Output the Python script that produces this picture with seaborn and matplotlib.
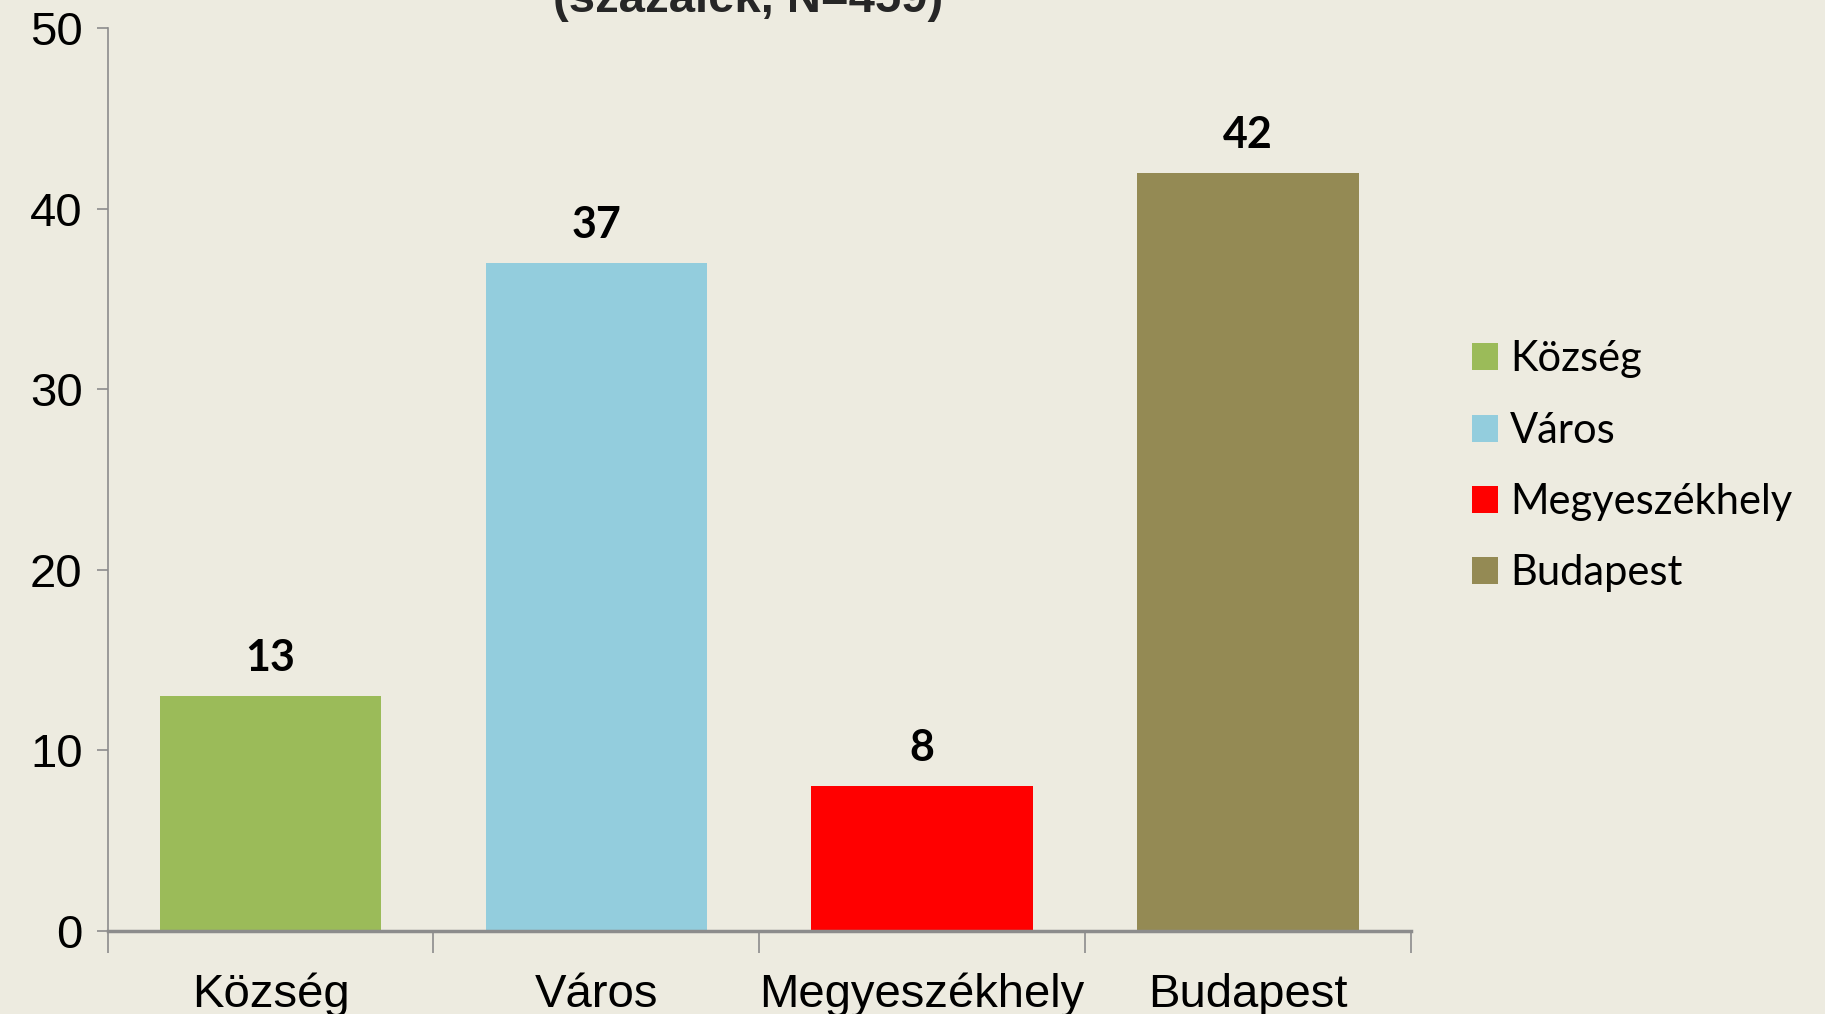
import matplotlib
matplotlib.use('Agg')
import matplotlib.pyplot as plt
import seaborn as sns
import pandas as pd
from matplotlib.patches import Patch

# Data
categories = ['Község', 'Város', 'Megyeszékhely', 'Budapest']
values = [13, 37, 8, 42]
colors = ['#9BBB59', '#93CDDD', '#FF0000', '#948A54']
title_text = '(százalék, N=459)'

bg = '#EDEBE0'

sns.set_theme(style='white')
plt.rcParams['font.family'] = ['Liberation Sans Narrow', 'Liberation Sans', 'DejaVu Sans']

df = pd.DataFrame({'Település': categories, 'Arány': values})

fig = plt.figure(figsize=(18.25, 10.14), dpi=100, facecolor=bg)
ax = fig.add_axes([0.059, 0.082, 0.714, 0.890])
ax.set_facecolor(bg)

sns.barplot(data=df, x='Település', y='Arány', hue='Település',
            palette=colors, width=0.68, dodge=False, legend=False,
            saturation=1, linewidth=0, edgecolor='none', ax=ax)

# value labels
for i, v in enumerate(values):
    ax.text(i, v + 1.0, str(v), ha='center', va='bottom',
            fontsize=31, fontweight='bold', family=['Lato', 'DejaVu Sans'],
            color='black')

ax.set_xlim(-0.5, 3.5)
ax.set_ylim(0, 50)
ax.set_yticks(range(0, 51, 10))
ax.set_xlabel('')
ax.set_ylabel('')

for s in ['top', 'right']:
    ax.spines[s].set_visible(False)
ax.spines['left'].set_color('#8c8c8c')
ax.spines['left'].set_linewidth(1.2)
ax.spines['bottom'].set_color('#8c8c8c')
ax.spines['bottom'].set_linewidth(2.5)

ax.tick_params(axis='y', which='major', direction='out', length=8, width=1.2,
               color='#8c8c8c', labelsize=34, labelcolor='black', pad=10, left=True)
ax.set_xticks([-0.5, 0.5, 1.5, 2.5, 3.5], minor=True)
ax.tick_params(axis='x', which='minor', direction='out', length=16, width=1.2,
               color='#8c8c8c', bottom=True)
ax.tick_params(axis='x', which='major', length=0, labelsize=34,
               labelcolor='black', pad=30)

handles = [Patch(facecolor=c, edgecolor='none') for c in colors]
leg = fig.legend(handles, categories, loc='center left',
                 bbox_to_anchor=(0.786, 0.54), frameon=False,
                 prop={'family': ['Lato', 'DejaVu Sans'], 'size': 30},
                 handlelength=0.62, handleheight=0.62, handletextpad=0.3,
                 labelspacing=0.8)
for t in leg.get_texts():
    t.set_color('black')

fig.text(0.41, 0.988, title_text, ha='center', va='baseline',
         fontsize=34, fontweight='bold', family=['Liberation Sans', 'DejaVu Sans'])

fig.savefig('out.png', dpi=100, facecolor=bg)
